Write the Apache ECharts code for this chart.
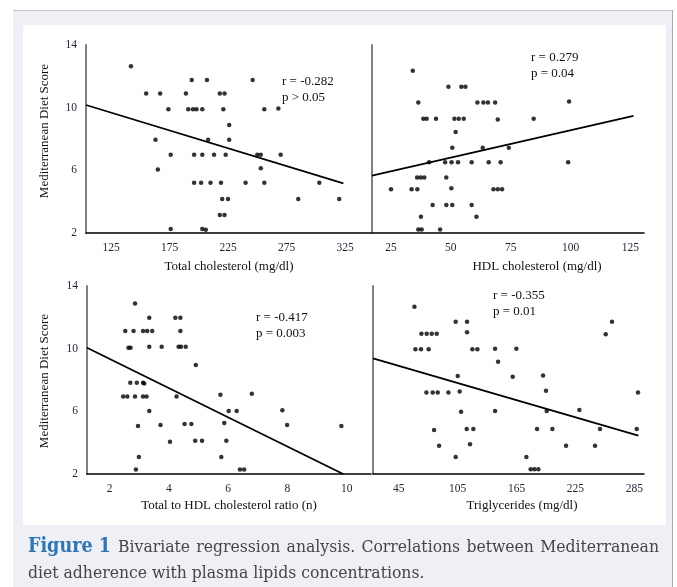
<!DOCTYPE html>
<html>
<head>
<meta charset="utf-8">
<script src="https://cdn.jsdelivr.net/npm/echarts@6/dist/echarts.min.js"></script>
<style>
html,body{margin:0;padding:0;background:#fff;}
#chart{width:677px;height:587px;}
</style>
</head>
<body>
<div id="chart"></div>
<script>
// ---- Data ----
var yTicks = [2, 6, 10, 14];

var tcTicks = [125, 175, 225, 275, 325];
var tcX = [142,155,167,194,207,246,189,218,222,174,191,195,198,203,221,256,268,226,163,208,226,176,196,203,213,223,250,253,270,165,253,196,202,210,219,240,256,303,220,225,285,320,218,222,176,203,206];
var tcY = [12.65,10.9,10.9,11.76,11.76,11.76,10.9,10.9,10.9,9.9,9.9,9.9,9.9,9.9,9.9,9.9,9.95,8.9,7.95,7.95,7.95,7.0,7.0,7.0,7.0,7.0,7.0,7.0,7.0,6.05,6.13,5.2,5.2,5.2,5.2,5.2,5.2,5.2,4.17,4.17,4.17,4.17,3.15,3.15,2.25,2.25,2.2];
var tcTrendX = [103.6, 323.6];
var tcTrendY = [10.17, 5.17];

var hdlTicks = [25, 50, 75, 100, 125];
var hdlX = [34.1,49.0,54.4,56.1,36.4,61.1,63.6,65.5,68.5,99.4,38.5,39.9,43.8,51.5,53.3,55.4,69.6,84.6,52.0,50.6,63.3,74.2,40.9,47.6,50.3,53.0,58.7,65.8,70.8,99.0,35.9,37.4,38.9,48.1,25.0,33.6,36.0,50.2,67.8,69.6,71.4,42.4,48.1,50.6,58.7,37.5,60.7,36.4,37.8,45.5];
var hdlY = [12.35,11.33,11.33,11.33,10.33,10.33,10.33,10.33,10.33,10.4,9.3,9.3,9.3,9.3,9.3,9.3,9.25,9.3,8.44,7.44,7.44,7.44,6.52,6.52,6.52,6.52,6.52,6.52,6.52,6.52,5.54,5.54,5.54,5.54,4.79,4.79,4.79,4.85,4.79,4.79,4.79,3.79,3.79,3.79,3.79,3.04,3.04,2.22,2.22,2.22];
var hdlTrendX = [17.06, 126.3];
var hdlTrendY = [5.66, 9.47];

var ratioTicks = [2, 4, 6, 8, 10];
var ratioX = [2.86,3.34,4.22,4.39,2.53,2.81,3.13,3.27,3.44,4.39,2.64,2.71,3.34,3.76,4.33,4.41,4.57,4.91,2.70,2.92,3.13,3.17,2.46,2.60,2.86,3.13,3.25,4.26,5.74,6.80,3.34,6.02,6.29,7.83,2.96,3.72,4.53,4.76,5.87,7.99,9.82,4.04,4.89,5.12,5.94,2.99,5.77,2.89,6.40,6.54];
var ratioY = [12.89,11.98,11.98,11.98,11.13,11.13,11.13,11.13,11.13,11.13,10.06,10.06,10.13,10.13,10.13,10.13,10.13,8.96,7.83,7.83,7.83,7.77,6.94,6.94,6.94,6.94,6.94,6.94,7.06,7.13,6.02,6.02,6.02,6.07,5.07,5.13,5.19,5.19,5.26,5.13,5.07,4.06,4.13,4.13,4.13,3.09,3.09,2.28,2.28,2.28];
var ratioTrendX = [1.24, 9.88];
var ratioTrendY = [10.06, 2.0];

var tgTicks = [45, 105, 165, 225, 285];
var tgX = [61.0,103.0,114.6,262.2,68.1,73.5,78.6,83.7,114.6,255.8,62.0,67.7,75.5,120.0,125.1,143.1,164.8,146.2,105.1,161.1,192.0,73.2,79.6,84.7,95.6,107.1,195.0,288.7,108.5,143.1,195.7,229.0,81.0,114.2,121.0,185.9,201.5,250.0,287.4,86.1,117.6,215.4,244.9,103.0,175.0,179.4,183.2,187.2];
var tgY = [12.68,11.72,11.72,11.72,10.96,10.96,10.96,10.96,11.04,10.92,9.96,9.96,9.96,9.96,9.96,10.0,10.0,9.17,8.26,8.21,8.28,7.21,7.21,7.21,7.21,7.26,7.32,7.21,5.98,6.02,6.02,6.09,4.81,4.87,4.87,4.87,4.87,4.87,4.87,3.81,3.9,3.81,3.81,3.09,3.09,2.3,2.3,2.3];
var tgTrendX = [18.8, 289.1];
var tgTrendY = [9.38, 4.45];

var xTitles = ['Total cholesterol (mg/dl)', 'HDL cholesterol (mg/dl)', 'Total to HDL cholesterol ratio (n)', 'Triglycerides (mg/dl)'];
var yTitle = 'Mediterranean Diet Score';
var statR = ['r = -0.282', 'r = 0.279', 'r = -0.417', 'r = -0.355'];
var statP = ['p > 0.05', 'p = 0.04', 'p = 0.003', 'p = 0.01'];
var captionLabel = 'Figure 1';
var captionLine1 = 'Bivariate regression analysis. Correlations between Mediterranean';
var captionLine2 = 'diet adherence with plasma lipids concentrations.';

// ---- Build chart ----
function zip(a, b) { return a.map(function (v, i) { return [v, b[i]]; }); }

var FONT = '"Liberation Serif", "Times New Roman", serif';
var CAPFONT = '"DejaVu Serif Condensed", "Liberation Serif", serif';
var panels = [
  { grid: { left: 86, top: 45, width: 285, height: 188 }, min: 103.6, max: 347.2, ticks: tcTicks, x: tcX, y: tcY, tx: tcTrendX, ty: tcTrendY, yLabels: true },
  { grid: { left: 372, top: 45, width: 272, height: 188 }, min: 17.06, max: 130.7, ticks: hdlTicks, x: hdlX, y: hdlY, tx: hdlTrendX, ty: hdlTrendY, yLabels: false },
  { grid: { left: 87, top: 286, width: 284, height: 188 }, min: 1.24, max: 10.82, ticks: ratioTicks, x: ratioX, y: ratioY, tx: ratioTrendX, ty: ratioTrendY, yLabels: true },
  { grid: { left: 373, top: 286, width: 271, height: 188 }, min: 18.8, max: 294.8, ticks: tgTicks, x: tgX, y: tgY, tx: tgTrendX, ty: tgTrendY, yLabels: false }
];

var grids = [], xAxes = [], yAxes = [], series = [];
panels.forEach(function (p, i) {
  grids.push(Object.assign({ containLabel: false }, p.grid));
  xAxes.push({
    type: 'value', gridIndex: i, min: p.min, max: p.max,
    axisLine: { show: true, onZero: false, lineStyle: { color: '#000', width: 1.5 } },
    axisTick: { show: false },
    splitLine: { show: false },
    axisLabel: { customValues: p.ticks, margin: 9, color: '#1e2438', fontFamily: FONT, fontSize: 11.5 }
  });
  yAxes.push({
    type: 'value', gridIndex: i, min: 2, max: 14, interval: 4,
    axisLine: { show: true, onZero: false, lineStyle: { color: '#808080', width: 2 } },
    axisTick: { show: false },
    splitLine: { show: false },
    axisLabel: { show: p.yLabels, margin: 9, color: '#1e2438', fontFamily: FONT, fontSize: 11.5, customValues: yTicks }
  });
  series.push({
    type: 'scatter', xAxisIndex: i, yAxisIndex: i, data: zip(p.x, p.y),
    symbol: 'circle', symbolSize: 4.5, itemStyle: { color: '#000' }, z: 3
  });
  series.push({
    type: 'line', xAxisIndex: i, yAxisIndex: i, data: zip(p.tx, p.ty),
    showSymbol: false, symbol: 'none', lineStyle: { color: '#000', width: 1.8 }, z: 2
  });
});

function txt(x, y, s, opt) {
  return {
    type: 'text', x: x, y: y, silent: true, z: 10,
    rotation: (opt && opt.rotation) || 0,
    style: Object.assign({ text: s, fill: '#111', font: '13px ' + FONT, textAlign: 'left', textVerticalAlign: 'middle' }, (opt && opt.style) || {})
  };
}

var titlePos = [[229, 267], [537, 267], [229, 506], [522, 506]];
var statPos = [[282, 82], [531, 58], [256, 318], [493, 296]];

var graphics = [
  { type: 'rect', shape: { x: 13, y: 10, width: 659, height: 577 }, style: { fill: '#eff0f5' }, z: -10, silent: true },
  { type: 'line', shape: { x1: 13, y1: 10.5, x2: 672, y2: 10.5 }, style: { stroke: '#c4c4c8', lineWidth: 1 }, z: -9, silent: true },
  { type: 'line', shape: { x1: 672.5, y1: 10, x2: 672.5, y2: 587 }, style: { stroke: '#a8a8ac', lineWidth: 1 }, z: -9, silent: true },
  { type: 'rect', shape: { x: 23, y: 25, width: 643, height: 500 }, style: { fill: '#ffffff' }, z: -8, silent: true }
];
titlePos.forEach(function (p, i) {
  graphics.push(txt(p[0], p[1], xTitles[i], { style: { textAlign: 'center' } }));
});
graphics.push(txt(45, 131, yTitle, { rotation: Math.PI / 2, style: { textAlign: 'center' } }));
graphics.push(txt(45, 381, yTitle, { rotation: Math.PI / 2, style: { textAlign: 'center' } }));
statPos.forEach(function (p, i) {
  graphics.push(txt(p[0], p[1], statR[i]));
  graphics.push(txt(p[0], p[1] + 15.5, statP[i]));
});

// Caption: first line justified between x=28 and x=658
var capBold = 'bold 19.5px ' + CAPFONT;
var capReg = '17.4px ' + CAPFONT;
var mctx = document.createElement('canvas').getContext('2d');
function measure(s, f) { mctx.font = f; return mctx.measureText(s).width; }
var words = captionLine1.split(' ');
var labelW = measure(captionLabel, capBold);
var wordW = words.map(function (w) { return measure(w, capReg); });
var total = labelW + wordW.reduce(function (a, b) { return a + b; }, 0);
var gap = Math.max(4, (658 - 28 - total) / words.length);
graphics.push(txt(28, 547, captionLabel, { style: { fill: '#2e75b6', font: capBold } }));
var cx = 28 + labelW + gap + 1;
words.forEach(function (w, i) {
  graphics.push(txt(cx, 547, w, { style: { fill: '#454545', font: capReg } }));
  cx += wordW[i] + gap;
});
graphics.push(txt(28, 573, captionLine2, { style: { fill: '#454545', font: capReg } }));

var chart = echarts.init(document.getElementById('chart'), null, { renderer: 'canvas' });
chart.setOption({
  animation: false,
  backgroundColor: '#ffffff',
  grid: grids,
  xAxis: xAxes,
  yAxis: yAxes,
  series: series,
  graphic: graphics
});
</script>
</body>
</html>
